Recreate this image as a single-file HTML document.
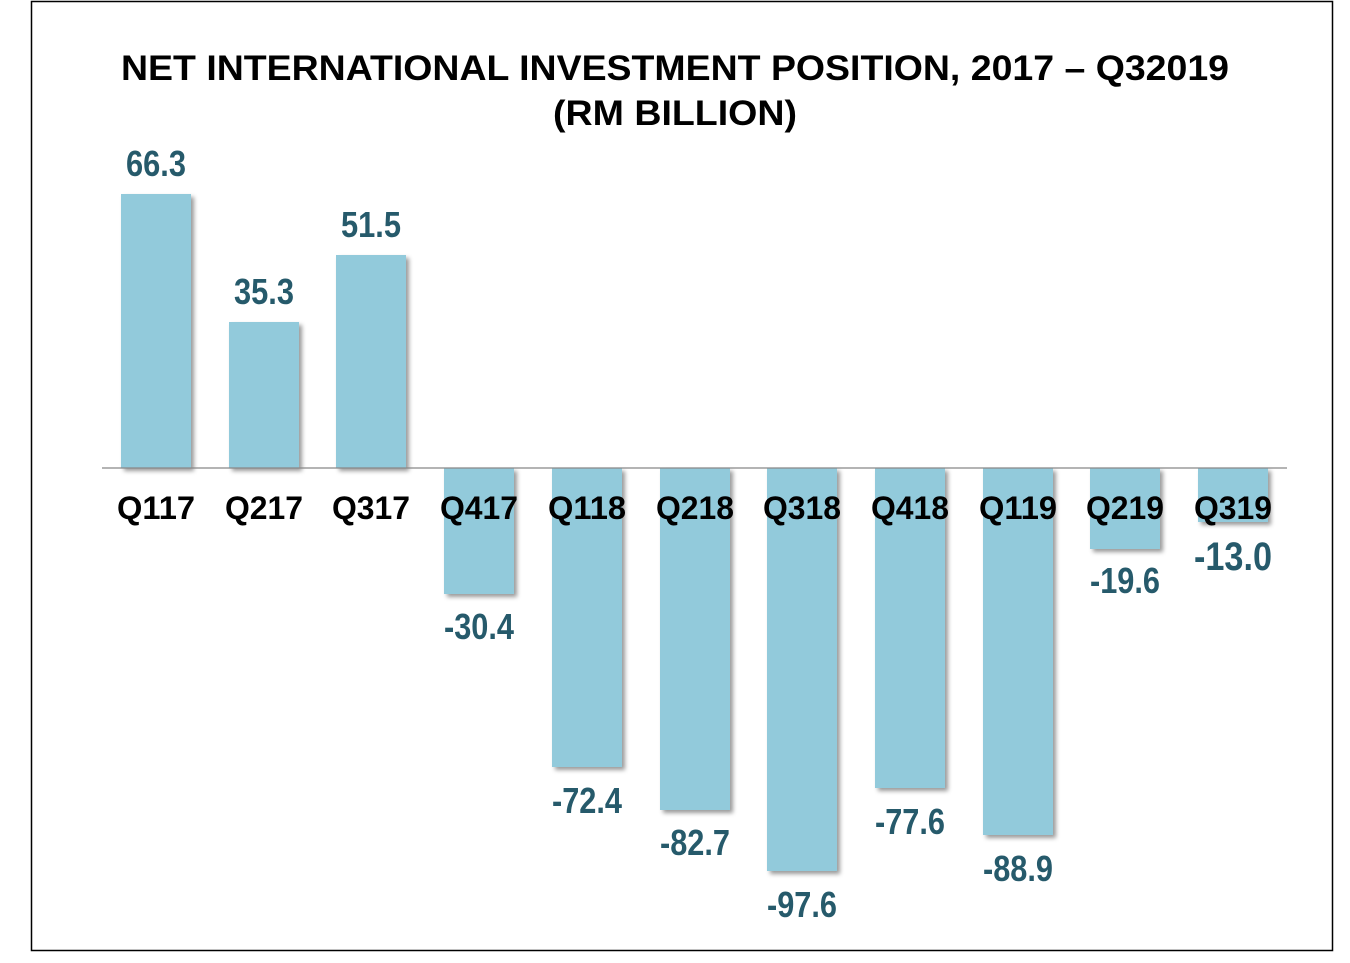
<!DOCTYPE html>
<html><head><meta charset="utf-8"><style>
html,body{margin:0;padding:0;background:#fff;width:1350px;height:963px;overflow:hidden}
</style></head><body>
<svg width="1350" height="963" viewBox="0 0 1350 963" xmlns="http://www.w3.org/2000/svg">
<defs><filter id="sh" x="-20%" y="-20%" width="150%" height="150%"><feDropShadow dx="3" dy="3" stdDeviation="2" flood-color="#000" flood-opacity="0.4"/></filter></defs>
<rect x="31.5" y="1.5" width="1301" height="949" fill="#fff" stroke="#000" stroke-width="1.5"/>
<g font-family="Liberation Sans, Arial, sans-serif" font-weight="bold" font-size="35" text-anchor="middle" fill="#000">
<text x="675" y="80" textLength="1108" lengthAdjust="spacingAndGlyphs">NET INTERNATIONAL INVESTMENT POSITION, 2017 – Q32019</text>
<text x="675" y="125" textLength="244" lengthAdjust="spacingAndGlyphs">(RM BILLION)</text>
</g>
<g fill="#92cadb" filter="url(#sh)">
<rect x="121" y="194" width="70" height="274"/>
<rect x="229" y="322" width="70" height="146"/>
<rect x="336" y="255" width="70" height="213"/>
<rect x="444" y="468" width="70" height="126"/>
<rect x="552" y="468" width="70" height="299"/>
<rect x="660" y="468" width="70" height="342"/>
<rect x="767" y="468" width="70" height="403"/>
<rect x="875" y="468" width="70" height="320"/>
<rect x="983" y="468" width="70" height="367"/>
<rect x="1090" y="468" width="70" height="81"/>
<rect x="1198" y="468" width="70" height="54"/>
</g>
<line x1="102" y1="468" x2="1287" y2="468" stroke="#888" stroke-width="1.2"/>
<g font-family="Liberation Sans, Arial, sans-serif" font-weight="bold" font-size="32" text-anchor="middle" fill="#000">
<text x="156" y="519" textLength="78" lengthAdjust="spacingAndGlyphs">Q117</text><text x="264" y="519" textLength="78" lengthAdjust="spacingAndGlyphs">Q217</text><text x="371" y="519" textLength="78" lengthAdjust="spacingAndGlyphs">Q317</text>
<text x="479" y="519" textLength="78" lengthAdjust="spacingAndGlyphs">Q417</text><text x="587" y="519" textLength="78" lengthAdjust="spacingAndGlyphs">Q118</text><text x="695" y="519" textLength="78" lengthAdjust="spacingAndGlyphs">Q218</text>
<text x="802" y="519" textLength="78" lengthAdjust="spacingAndGlyphs">Q318</text><text x="910" y="519" textLength="78" lengthAdjust="spacingAndGlyphs">Q418</text><text x="1018" y="519" textLength="78" lengthAdjust="spacingAndGlyphs">Q119</text>
<text x="1125" y="519" textLength="78" lengthAdjust="spacingAndGlyphs">Q219</text><text x="1233" y="519" textLength="78" lengthAdjust="spacingAndGlyphs">Q319</text>
</g>
<g font-family="Liberation Sans, Arial, sans-serif" font-weight="bold" font-size="36" text-anchor="middle" fill="#265a6b">
<text x="156" y="176" textLength="60" lengthAdjust="spacingAndGlyphs">66.3</text><text x="264" y="304" textLength="60" lengthAdjust="spacingAndGlyphs">35.3</text><text x="371" y="237" textLength="60" lengthAdjust="spacingAndGlyphs">51.5</text>
<text x="479" y="639" textLength="70" lengthAdjust="spacingAndGlyphs">-30.4</text><text x="587" y="813" textLength="70" lengthAdjust="spacingAndGlyphs">-72.4</text><text x="695" y="855" textLength="70" lengthAdjust="spacingAndGlyphs">-82.7</text>
<text x="802" y="917" textLength="70" lengthAdjust="spacingAndGlyphs">-97.6</text><text x="910" y="834" textLength="70" lengthAdjust="spacingAndGlyphs">-77.6</text><text x="1018" y="881" textLength="70" lengthAdjust="spacingAndGlyphs">-88.9</text>
<text x="1125" y="593" textLength="70" lengthAdjust="spacingAndGlyphs">-19.6</text><text x="1233" y="570" font-size="40" textLength="78" lengthAdjust="spacingAndGlyphs">-13.0</text>
</g>
</svg>
</body></html>
